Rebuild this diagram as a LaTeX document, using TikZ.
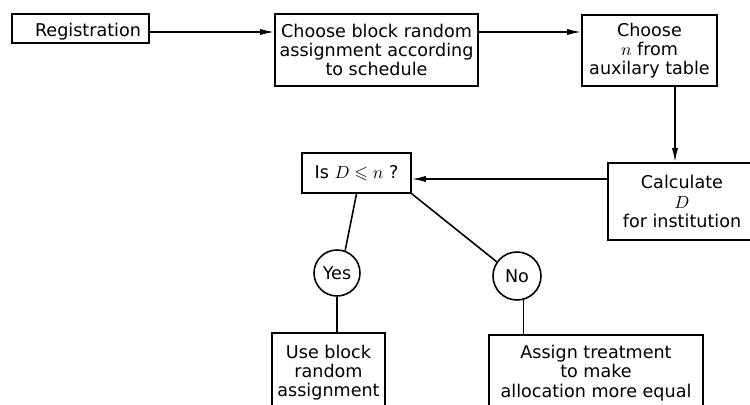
\documentclass[tikz,border=0pt]{standalone}
\usepackage{amsmath, amssymb}
\usepackage{fontspec}
\setmainfont{DejaVu Sans}
\usepackage{tikz}
\usetikzlibrary{positioning,arrows.meta,calc}
\tikzset{
    block/.style = {
        draw,
        shape=rectangle,
        align=center,
        inner sep=2pt,
        line width=0.9pt
    },
    answer/.style = {
        draw,
        shape=circle,
        inner sep=0pt,
        line width=0.9pt
    },
    link/.style = {
        draw,
        line width=0.9pt
    },
    >={Latex[length=8pt,width=3.5pt]},
}

\begin{document}
\begin{tikzpicture}[x=0.02cm,y=-0.02cm,font=\fontsize{10}{11}\selectfont]
                \useasboundingbox (0,0) rectangle (750,405);

                \node[block,minimum width=2.74cm,minimum height=0.58cm] (reg) at (80.5,28.5) {\hspace{0.3cm}\raisebox{-0.07cm}[\height][\depth]{Registration}};
                \node[block,minimum width=4.06cm,minimum height=1.44cm] (choose) at (376.5,50) {Choose block random\\assignment according\\to schedule};
                \node[block,minimum width=2.7cm,minimum height=1.42cm] (table) at (649.5,50.5) {Choose\\$n$ from\\auxilary table};
                \node[block,minimum width=2.96cm,minimum height=1.54cm] (calc) at (682,201.5) {Calculate\\$D$\\for institution};
                \node[block,minimum width=2.18cm,minimum height=0.8cm] (isq) at (356.5,173) {Is $D \leqslant n$ ?};
                \node[answer,minimum size=0.92cm] (yes) at (337,273) {Yes};
                \node[answer,minimum size=0.96cm] (no) at (517,276) {No};
                \node[block,minimum width=2.26cm,minimum height=1.58cm] (use) at (328.5,372.5) {Use block\\random\\assignment};
                \node[block,minimum width=4.28cm,minimum height=1.52cm] (assign) at (596,373) {Assign treatment\\to make\\allocation more equal};

                \coordinate (toprow) at (0,32);
                \coordinate (drop) at (675,0);
                \coordinate (midrow) at (0,179);

                \path[link, ->] (reg.east |- toprow) -- (choose.west |- toprow);
                \path[link, ->] (choose.east |- toprow) -- (table.west |- toprow);
                \path[link, ->] (table.south -| drop) -- (calc.north -| drop);
                \path[link, ->] (calc.west |- midrow) -- (isq.east |- midrow);
                \path[link, -] (isq.south) -- (yes.70);
                \path[link, -] (isq.south east) -- (no.145);
                \path[link, -] (yes.south) -- (yes.south |- use.north);
                \path[link, -] (no.285) -- (no.285 |- assign.north);
            \end{tikzpicture}
\end{document}
